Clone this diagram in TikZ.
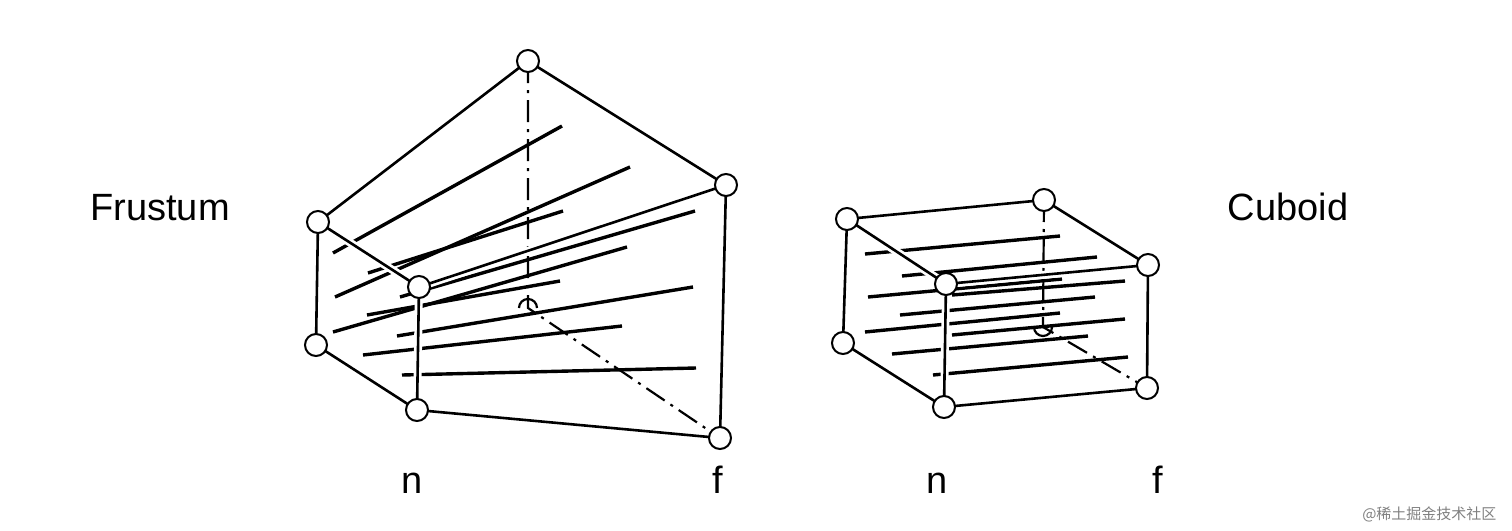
\documentclass[tikz,border=0pt]{standalone}
\usepackage{fontspec}
\setmainfont{Liberation Sans}
\newfontfamily\cjk{Noto Sans CJK SC}
\usetikzlibrary{positioning}
\tikzset{
      vertex/.style={
		circle,
		draw=black,
		fill=white,
		line width=2pt,
		minimum size=22pt,
		inner sep=0pt,
	  },
      edge/.style={line width=2.6pt, preaction={draw=white, line width=8pt}},
      back edge/.style={line width=2.2pt, dash pattern=on 22pt off 7pt on 3pt off 7pt},
      depth/.style={line width=3.4pt},
      label/.style={font=\fontsize{38}{44}\selectfont, anchor=base},
  	}
\begin{document}
\begin{tikzpicture}[x=1pt,y=-1pt]
    \useasboundingbox (0,0) rectangle (1512,530);
    % frustum corners
    \coordinate (fA) at (528,61);
    \coordinate (fB) at (726,185);
    \coordinate (fC) at (318,222);
    \coordinate (fD) at (419,287);
    \coordinate (fE) at (316,345);
    \coordinate (fF) at (417,410);
    \coordinate (fG) at (720,438);
    \coordinate (fH) at (528,308);
    % cuboid corners
    \coordinate (cA) at (1044,200);
    \coordinate (cB) at (1148,265);
    \coordinate (cC) at (847,219);
    \coordinate (cD) at (946,284);
    \coordinate (cE) at (843,343);
    \coordinate (cF) at (944,407);
    \coordinate (cG) at (1147,388);
    \coordinate (cH) at (1043,327);
    % hidden edges
    \draw [back edge] (fA) -- (fH) -- (fG);
    \draw [back edge] (cA) -- (cH) -- (cG);
    \draw [line width=2.2pt] ([xshift=-9pt]fH) arc (180:0:9pt);
    \draw [line width=2.2pt] ([xshift=-9pt]cH) arc (180:360:9pt);
    % depth lines
    \foreach \xa/\ya/\xb/\yb in {333/253/562/126, 335/297/630/167, 368/273/563/211,
                       333/332/627/247, 400/297/695/211, 367/315/560/281,
                       397/336/693/287, 363/355/622/326, 402/375/696/368,
                       865/254/1060/236, 902/276/1097/257, 868/297/1062/279,
                       952/295/1125/281, 900/315/1095/297, 865/332/1060/313,
                       952/335/1125/319, 892/354/1088/336, 933/375/1128/357}
      \draw [depth] (\xa,\ya) -- (\xb,\yb);
    % visible edges
    \draw [edge] (fC) -- (fA) -- (fB) -- (fG) -- (fF) -- (fE) -- (fC) -- (fD) -- (fF);
    \draw [edge] (fD) -- (fB);
    \draw [edge] (cC) -- (cA) -- (cB) -- (cG) -- (cF) -- (cE) -- (cC) -- (cD) -- (cF);
    \draw [edge] (cD) -- (cB);
    % corner nodes
    \foreach \p in {fA,fB,fC,fD,fE,fF,fG,cA,cB,cC,cD,cE,cF,cG}
      \node [vertex] (v\p) at (\p) {};
    \node [label] (frustum) at (160,220) {Frustum};
    \node [label] (cuboid) at (1288,220) {Cuboid};
    \node [label] (fn) at (412,493) {n};
    \node [label] (ff) at (718,493) {f};
    \node [label] (cn) at (937,493) {n};
    \node [label] (cf) at (1158,493) {f};
    \node [text=gray, font=\cjk\fontsize{15}{18}\selectfont, anchor=east] (mark) at (1500,514) {@稀土掘金技术社区};
  \end{tikzpicture}
\end{document}
